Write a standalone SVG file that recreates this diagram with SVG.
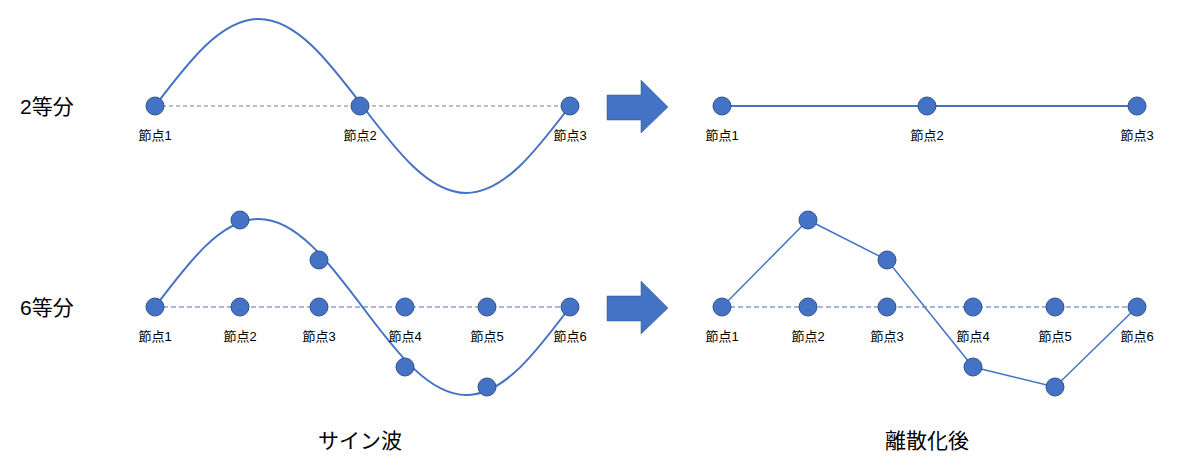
<svg xmlns="http://www.w3.org/2000/svg" width="1177" height="471" viewBox="0 0 1177 471">
<style>
.n{fill:#4472C4;stroke:#2F528F;stroke-width:1}
.c{fill:none;stroke:#4472C4;stroke-width:2}
.dg{stroke:#7F7F7F;stroke-width:1;stroke-dasharray:4 3}
.db{stroke:#4472C4;stroke-width:1;stroke-dasharray:5 3}
.l{font-family:"Liberation Sans","Noto Sans CJK JP",sans-serif;font-size:13px;text-anchor:middle;fill:#000}
.t{font-family:"Liberation Sans","Noto Sans CJK JP",sans-serif;font-size:21px;fill:#000}
</style>
<g id="connectors">
<line class="dg" x1="155" y1="106" x2="570" y2="106"/>
<path class="c" d="M155,106 C188.8,61.4 221.2,19 258.75,19 C296.3,19 328.7,61.4 362.5,106 C396.3,150.6 428.7,193 466.25,193 C503.8,193 536.2,150.6 570,106"/>
<line class="db" x1="155" y1="307" x2="570" y2="307"/>
<path class="c" d="M155,307 C188.8,262 221.2,219 258.75,219 C296.3,219 328.7,262 362.5,307 C396.3,352 428.7,395 466.25,395 C503.8,395 536.2,352 570,307"/>
<polyline class="c" points="722,106 1137,106"/>
<line class="db" x1="722" y1="307" x2="1137" y2="307"/>
<polyline class="c" style="stroke-width:1.5" points="722,307 808,220 887,260 973,367 1055,387 1137,307"/>
</g>
<g id="arrow1"><polygon fill="#4472C4" stroke="#2F528F" stroke-width="0.5" points="607,95 641,95 641,80 668,107 641,133 641,120 607,120"/></g>
<g id="arrow2"><polygon fill="#4472C4" stroke="#2F528F" stroke-width="0.5" points="607,296 641,296 641,281 668,308 641,334 641,321 607,321"/></g>
<g id="top-left">
<circle class="n" cx="155" cy="106" r="9"/><circle class="n" cx="360" cy="106" r="9"/><circle class="n" cx="570" cy="106" r="9"/>
<text class="l" x="155" y="140">節点1</text><text class="l" x="360" y="140">節点2</text><text class="l" x="570" y="140">節点3</text>
</g>
<g id="top-right">
<circle class="n" cx="722" cy="106" r="9"/><circle class="n" cx="927" cy="106" r="9"/><circle class="n" cx="1137" cy="106" r="9"/>
<text class="l" x="722" y="140">節点1</text><text class="l" x="927" y="140">節点2</text><text class="l" x="1137" y="140">節点3</text>
</g>
<g id="bottom-left">
<circle class="n" cx="155" cy="307" r="9"/><circle class="n" cx="240" cy="307" r="9"/><circle class="n" cx="319" cy="307" r="9"/><circle class="n" cx="405" cy="307" r="9"/><circle class="n" cx="487" cy="307" r="9"/><circle class="n" cx="570" cy="307" r="9"/>
<circle class="n" cx="240" cy="220" r="9"/><circle class="n" cx="319" cy="260" r="9"/><circle class="n" cx="405" cy="367" r="9"/><circle class="n" cx="487" cy="387" r="9"/>
<text class="l" x="155" y="341">節点1</text><text class="l" x="240" y="341">節点2</text><text class="l" x="319" y="341">節点3</text><text class="l" x="405" y="341">節点4</text><text class="l" x="487" y="341">節点5</text><text class="l" x="570" y="341">節点6</text>
</g>
<g id="bottom-right">
<circle class="n" cx="722" cy="307" r="9"/><circle class="n" cx="808" cy="307" r="9"/><circle class="n" cx="887" cy="307" r="9"/><circle class="n" cx="973" cy="307" r="9"/><circle class="n" cx="1055" cy="307" r="9"/><circle class="n" cx="1137" cy="307" r="9"/>
<circle class="n" cx="808" cy="220" r="9"/><circle class="n" cx="887" cy="260" r="9"/><circle class="n" cx="973" cy="367" r="9"/><circle class="n" cx="1055" cy="387" r="9"/>
<text class="l" x="722" y="341">節点1</text><text class="l" x="808" y="341">節点2</text><text class="l" x="887" y="341">節点3</text><text class="l" x="973" y="341">節点4</text><text class="l" x="1055" y="341">節点5</text><text class="l" x="1137" y="341">節点6</text>
</g>
<g id="titles">
<text class="t" x="20" y="114">2等分</text>
<text class="t" x="20" y="315">6等分</text>
<text class="t" x="360" y="448" text-anchor="middle">サイン波</text>
<text class="t" x="927" y="448" text-anchor="middle">離散化後</text>
</g>
</svg>
